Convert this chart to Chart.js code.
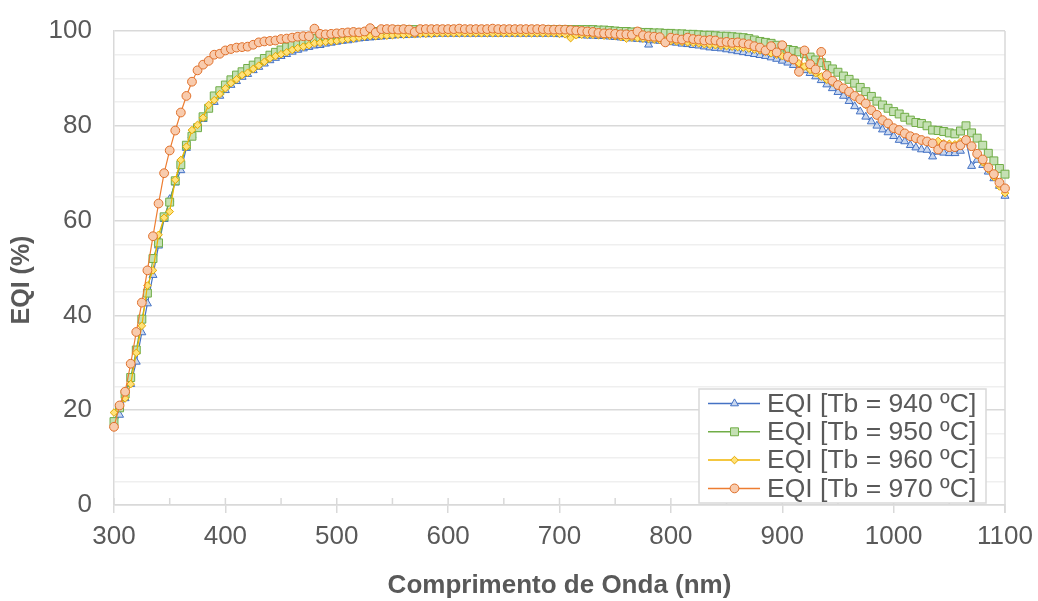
<!DOCTYPE html>
<html>
<head>
<meta charset="utf-8">
<script src="https://cdn.jsdelivr.net/npm/chart.js@4/dist/chart.umd.min.js"></script>
<style>
html,body{margin:0;padding:0;background:#fff;}
#wrap{width:1038px;height:601px;position:relative;}
</style>
</head>
<body>
<div id="wrap"><canvas id="c" width="1038" height="601"></canvas></div>
<script>
const wavelengths = [
300,305,310,315,320,325,330,335,340,345,
350,355,360,365,370,375,380,385,390,395,
400,405,410,415,420,425,430,435,440,445,
450,455,460,465,470,475,480,485,490,495,
500,505,510,515,520,525,530,535,540,545,
550,555,560,565,570,575,580,585,590,595,
600,605,610,615,620,625,630,635,640,645,
650,655,660,665,670,675,680,685,690,695,
700,705,710,715,720,725,730,735,740,745,
750,755,760,765,770,775,780,785,790,795,
800,805,810,815,820,825,830,835,840,845,
850,855,860,865,870,875,880,885,890,895,
900,905,910,915,920,925,930,935,940,945,
950,955,960,965,970,975,980,985,990,995,
1000,1005,1010,1015,1020,1025,1030,1035,1040,1045,
1050,1055,1060,1065,1070,1075,1080,1085,1090,1095,
1100];

const eqi940 = [
16.8,19.0,22.5,25.5,30.2,36.4,42.5,48.5,54.7,60.3,
64.5,68.0,70.6,75.3,78.0,79.8,81.4,83.9,85.0,86.3,
87.5,88.6,89.4,90.3,90.9,91.7,92.4,93.1,93.8,94.3,
94.7,95.1,95.6,96.0,96.3,96.6,96.9,97.0,97.3,97.5,
97.7,97.9,98.0,98.2,98.4,98.5,98.6,98.7,98.8,98.9,
99.0,99.1,99.1,99.2,99.2,99.3,99.3,99.3,99.4,99.4,
99.4,99.4,99.4,99.4,99.4,99.4,99.4,99.4,99.4,99.4,
99.4,99.4,99.4,99.4,99.4,99.4,99.4,99.4,99.4,99.4,
99.3,99.3,99.2,99.1,99.1,99.0,99.0,98.9,98.9,98.8,
98.7,98.6,98.5,98.4,98.3,98.2,97.1,98.0,97.9,97.8,
97.6,97.5,97.3,97.2,97.0,96.9,96.7,96.5,96.4,96.3,
96.1,95.9,95.7,95.5,95.3,95.1,94.9,94.7,94.4,94.1,
93.7,93.3,92.8,92.2,91.7,91.1,90.4,89.6,88.7,87.9,
87.1,86.3,85.2,84.1,83.0,81.9,80.9,80.0,79.2,78.6,
77.8,77.0,76.7,75.9,75.4,75.0,74.9,73.5,74.5,74.3,
74.2,74.2,74.7,76.7,71.5,72.8,71.7,70.3,68.9,67.3,
65.2];

const eqi950 = [
17.6,20.5,23.4,26.9,32.7,39.2,44.7,52.0,55.3,60.8,
63.9,68.4,71.8,75.9,77.8,79.6,81.9,83.7,86.3,87.4,
88.6,89.7,90.7,91.4,92.1,92.8,93.5,94.2,94.9,95.5,
96.0,96.6,97.0,97.4,97.7,98.1,98.4,98.7,98.9,99.1,
99.2,99.3,99.4,99.5,99.6,99.7,99.8,99.9,100.0,100.1,
100.2,100.2,100.3,100.3,100.3,100.3,100.3,100.3,100.3,100.3,
100.3,100.3,100.3,100.3,100.3,100.3,100.3,100.3,100.3,100.3,
100.3,100.3,100.3,100.3,100.3,100.3,100.3,100.3,100.3,100.3,
100.3,100.3,100.3,100.3,100.3,100.3,100.3,100.2,100.2,100.1,
100.0,99.9,99.9,99.8,99.8,99.7,99.7,99.6,99.6,99.5,
99.5,99.4,99.4,99.3,99.3,99.2,99.1,99.1,99.0,98.9,
98.9,98.8,98.7,98.6,98.4,98.1,97.8,97.6,97.4,97.0,
96.6,96.1,95.9,95.6,95.2,94.5,93.9,93.3,92.7,92.0,
91.3,90.5,89.8,89.0,88.1,87.2,86.2,85.2,84.4,83.7,
83.0,82.5,81.8,81.2,80.7,80.5,80.0,79.1,79.0,78.8,
78.5,78.3,78.9,80.0,78.5,77.4,75.9,74.2,72.6,71.0,
69.8];

const eqi960 = [
19.5,21.0,22.5,25.5,32.1,37.8,46.3,49.5,57.0,60.6,
61.9,68.6,72.8,75.6,79.1,80.2,81.7,84.4,85.4,86.7,
87.9,89.0,89.8,90.7,91.2,92.0,92.7,93.5,94.2,94.7,
95.1,95.5,96.0,96.4,96.7,97.0,97.4,97.5,97.7,97.8,
97.9,98.1,98.3,98.4,98.6,98.8,98.9,98.9,99.0,99.0,
99.1,99.2,99.2,99.3,99.3,99.4,99.4,99.4,99.5,99.5,
99.5,99.5,99.5,99.5,99.5,99.5,99.5,99.5,99.5,99.5,
99.5,99.5,99.5,99.5,99.5,99.5,99.5,99.5,99.5,99.5,
99.4,99.3,98.5,99.1,99.2,99.2,99.2,99.1,99.0,99.0,
98.9,98.7,98.4,98.6,98.5,98.4,98.3,98.2,98.1,98.0,
97.9,97.8,97.7,97.6,97.5,97.4,97.2,97.1,97.0,96.9,
96.8,96.7,96.6,96.5,96.3,96.1,95.9,95.6,95.3,95.0,
94.7,94.3,93.8,93.2,92.5,91.8,91.1,90.4,89.7,89.1,
88.4,87.7,87.0,86.1,85.3,84.4,83.2,82.2,81.2,80.3,
79.4,78.9,78.3,77.7,77.2,76.9,76.6,76.4,76.8,76.3,
76.2,76.1,76.6,77.0,75.8,73.8,72.3,70.8,69.2,67.2,
65.8];

const eqi970 = [
16.5,21.0,23.9,29.8,36.5,42.7,49.5,56.7,63.6,70.0,
74.8,79.0,82.8,86.3,89.3,91.7,92.9,93.7,95.0,95.2,
95.9,96.2,96.5,96.6,96.7,97.1,97.6,97.8,97.9,98.0,
98.3,98.4,98.6,98.8,98.9,98.9,100.5,99.4,99.3,99.4,
99.5,99.6,99.7,99.8,99.7,99.9,100.6,99.7,100.4,100.4,
100.4,100.3,100.4,100.3,99.8,100.4,100.4,100.4,100.4,100.4,
100.4,100.4,100.5,100.4,100.4,100.4,100.4,100.4,100.5,100.4,
100.4,100.4,100.4,100.4,100.4,100.4,100.4,100.4,100.3,100.3,
100.3,100.3,100.2,100.1,100.0,99.9,99.8,99.6,99.5,99.5,
99.4,99.3,99.3,99.2,99.9,99.1,98.9,98.8,98.7,97.6,
98.6,98.4,98.2,98.6,98.3,98.2,98.0,98.1,98.0,97.6,
97.7,97.5,97.6,97.4,97.2,96.8,96.5,95.9,96.8,95.5,
97.0,94.6,94.0,91.4,95.9,93.0,91.9,95.6,90.7,89.5,
88.6,87.9,87.2,86.3,85.6,84.7,83.3,82.3,81.2,80.5,
79.5,79.1,78.4,77.8,77.4,77.0,76.7,76.3,75.0,75.9,
75.5,75.5,75.9,77.0,75.7,74.1,72.9,71.2,69.8,68.0,
66.8];

const seriesLabels = ['EQI [Tb = 940 ºC]','EQI [Tb = 950 ºC]','EQI [Tb = 960 ºC]','EQI [Tb = 970 ºC]'];
const xTicks = [300,400,500,600,700,800,900,1000,1100];
const yTicks = [0,20,40,60,80,100];
const yTitle = 'EQI (%)';
const xTitle = 'Comprimento de Onda (nm)';

const FONT = "'Liberation Sans', Arial, sans-serif";
const TXT = '#595959';

function pts(vals){ return wavelengths.map((w,i)=>({x:w,y:vals[i]})); }

const styles = [
  {line:'#4472c4', fill:'#c9d7ef', stroke:'#4472c4', shape:'triangle', r:4.6, order:4},
  {line:'#70ad47', fill:'#c5e0b4', stroke:'#70ad47', shape:'rect', r:5.6, order:3},
  {line:'#f0b400', fill:'#ffe27a', stroke:'#e6a800', shape:'rectRot', r:3.8, order:2},
  {line:'#ed7d31', fill:'#f8cbad', stroke:'#e0702a', shape:'circle', r:4.4, order:1}
];
const allVals = [eqi940, eqi950, eqi960, eqi970];

const datasets = allVals.map((v,i)=>({
  label: seriesLabels[i],
  data: pts(v),
  borderColor: styles[i].line,
  borderWidth: 1.2,
  pointStyle: styles[i].shape,
  pointRadius: styles[i].r,
  pointBackgroundColor: styles[i].fill,
  pointBorderColor: styles[i].stroke,
  pointBorderWidth: 1,
  tension: 0,
  clip: false,
  order: styles[i].order
}));

const framePlugin = {
  id:'frame',
  beforeDatasetsDraw(chart){
    const {ctx, chartArea:a, scales:{x}} = chart;
    ctx.save();
    ctx.strokeStyle = '#d9d9d9';
    ctx.lineWidth = 1.5;
    ctx.beginPath();
    ctx.moveTo(a.right, a.top); ctx.lineTo(a.right, a.bottom + 8);
    for (let v = 350; v < 1100; v += 100) {
      const px = x.getPixelForValue(v);
      ctx.moveTo(px, a.bottom); ctx.lineTo(px, a.bottom - 7);
    }
    for (const v of xTicks) {
      const px = x.getPixelForValue(v);
      ctx.moveTo(px, a.bottom); ctx.lineTo(px, a.bottom - 7);
    }
    ctx.stroke();
    // y axis title (slightly below the plot centre, as in the original)
    ctx.fillStyle = TXT;
    ctx.font = "bold 25px " + FONT;
    ctx.textAlign = 'center';
    ctx.textBaseline = 'middle';
    ctx.translate(22, (a.top + a.bottom) / 2 + 12);
    ctx.rotate(-Math.PI / 2);
    ctx.fillText(yTitle, 0, 0);
    ctx.restore();
  }
};

const legendPlugin = {
  id:'boxLegend',
  afterDatasetsDraw(chart){
    const {ctx, chartArea:a} = chart;
    const right = a.right - 19, bottom = a.bottom - 2;
    const w = 287, h = 114;
    const left = right - w, top = bottom - h;
    ctx.save();
    ctx.fillStyle = '#ffffff';
    ctx.fillRect(left, top, w, h);
    ctx.strokeStyle = '#d9d9d9';
    ctx.lineWidth = 1.5;
    ctx.strokeRect(left, top, w, h);
    ctx.font = "26.5px " + FONT;
    ctx.textBaseline = 'middle';
    ctx.textAlign = 'left';
    for (let i = 0; i < 4; i++) {
      const y = top + 14.5 + i * 28.3;
      const s = styles[i];
      ctx.strokeStyle = s.line;
      ctx.lineWidth = 1.5;
      ctx.beginPath();
      ctx.moveTo(left + 9, y); ctx.lineTo(left + 61, y);
      ctx.stroke();
      ctx.fillStyle = s.fill;
      ctx.strokeStyle = s.stroke;
      ctx.lineWidth = 1;
      Chart.helpers.drawPoint(ctx, {pointStyle:s.shape, radius:s.r, rotation:0, borderWidth:1}, left + 35.5, y);
      ctx.fillStyle = TXT;
      ctx.fillText(seriesLabels[i], left + 68, y + 1);
    }
    ctx.restore();
  }
};

new Chart(document.getElementById('c'), {
  type:'line',
  data:{ datasets },
  plugins:[framePlugin, legendPlugin],
  options:{
    responsive:false,
    animation:false,
    layout:{ autoPadding:false, padding:{ top:31, right:33, left:0, bottom:0 } },
    plugins:{ legend:{display:false}, tooltip:{enabled:false} },
    scales:{
      x:{
        type:'linear', min:300, max:1100,
        afterBuildTicks(s){ s.ticks = xTicks.map(v=>({value:v})); },
        ticks:{ color:TXT, font:{family:FONT, size:26}, padding:8, maxRotation:0, autoSkip:false,
          callback:(v)=> String(v) },
        grid:{ drawOnChartArea:false, color:'#d9d9d9', tickLength:8, lineWidth:1.5 },
        border:{ display:true, color:'#d9d9d9', width:1.5 },
        title:{ display:true, text:xTitle, color:TXT, font:{family:FONT, size:26, weight:'bold'}, padding:{top:0, bottom:0} },
        afterFit(s){ s.height = 96; s.paddingLeft = 0; s.paddingRight = 0; }
      },
      y:{
        min:0, max:100,
        ticks:{ stepSize:5, autoSkip:false, color:TXT, font:{family:FONT, size:26}, padding:0,
          callback:(v)=> yTicks.includes(v) ? String(v) : '' },
        grid:{ drawTicks:true, tickLength:22, tickColor:'rgba(0,0,0,0)',
          color:(c)=> (c.tick && yTicks.includes(c.tick.value)) ? '#d9d9d9' : '#efefef',
          lineWidth:1.5 },
        border:{ display:true, color:'#d9d9d9', width:1.5 },
        title:{ display:false },
        afterFit(s){ s.width = 114; s.paddingTop = 0; s.paddingBottom = 0; }
      }
    }
  }
});
</script>
</body>
</html>
